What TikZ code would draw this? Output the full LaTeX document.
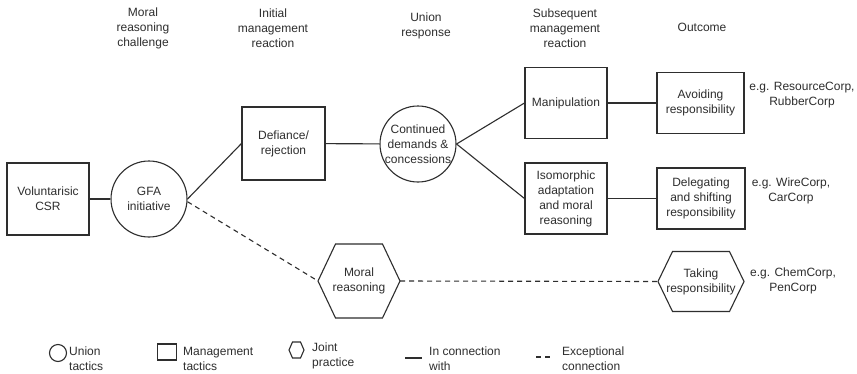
\documentclass[tikz,border=0pt]{standalone}
\usepackage{fontspec}
\setmainfont{Liberation Sans}
\definecolor{ink}{HTML}{2E2E2E}
\begin{document}
\begin{tikzpicture}[x=1pt,y=-1pt,
  every node/.style={font=\fontsize{12}{15}\selectfont, text=ink, align=center, inner sep=0pt},
  line/.style={draw=ink, line width=1.1pt},
  exc/.style={line, dash pattern=on 5pt off 4pt},
  mbox/.style={line, rectangle},
  ubox/.style={line, circle},
]
\useasboundingbox (0,0) rectangle (857,373);
\fill[white] (0,0) rectangle (857,373);

% column headers
\node (h1) at (143,28) {Moral\\reasoning\\challenge};
\node (h2) at (273,28.5) {Initial\\management\\reaction};
\node (h3) at (426,25.5) {Union\\response};
\node (h4) at (565,28) {Subsequent\\management\\reaction};
\node (h5) at (702,27) {Outcome};

% main nodes
\node[mbox, minimum width=82, minimum height=72] (vol) at (48,199) {Voluntarisic\\CSR};
\node[ubox, minimum size=76] (gfa) at (149,199) {};
\node (gfa-t) at (gfa) {GFA\\initiative};
\node[mbox, minimum width=83, minimum height=73] (def) at (283.5,143.5) {Defiance/\\rejection};
\node[ubox, minimum size=76] (con) at (418,144) {};
\node (con-t) at (con) {Continued\\demands \&\\concessions};
\node[mbox, minimum width=82, minimum height=71] (man) at (566,103) {Manipulation};
\node[mbox, minimum width=82, minimum height=71] (iso) at (566,198.5) {Isomorphic\\adaptation\\and moral\\reasoning};
\node[mbox, minimum width=87, minimum height=61] (avo) at (700.5,103) {Avoiding\\responsibility};
\node[mbox, minimum width=88, minimum height=61] (del) at (701,198.5) {Delegating\\and shifting\\responsibility};

% joint practice hexagons
\node (mor) at (359,281) {Moral\\reasoning};
\draw[line] ([shift={(-23.5,-37)}]mor.center) -- ([shift={(23.5,-37)}]mor.center)
  -- ([shift={(41,0)}]mor.center) coordinate (mor-e)
  -- ([shift={(23.5,37)}]mor.center) -- ([shift={(-23.5,37)}]mor.center)
  -- ([shift={(-41,0)}]mor.center) coordinate (mor-w) -- cycle;
\node (tak) at (701,281.5) {Taking\\responsibility};
\draw[line] ([shift={(-28.5,-30)}]tak.center) -- ([shift={(28.5,-30)}]tak.center)
  -- ([shift={(43,0)}]tak.center) coordinate (tak-e)
  -- ([shift={(28.5,30)}]tak.center) -- ([shift={(-28.5,30)}]tak.center)
  -- ([shift={(-43,0)}]tak.center) coordinate (tak-w) -- cycle;

% examples
\node (ex1) at (802,95.5) {e.g. ResourceCorp,\\RubberCorp};
\node (ex2) at (791,190.5) {e.g. WireCorp,\\CarCorp};
\node (ex3) at (793,280.5) {e.g. ChemCorp,\\PenCorp};

% connectors
\draw[line] (vol) -- (gfa);
\draw[line] (gfa.east) -- (def.west);
\draw[exc] (gfa.-4) -- (mor-w);
\draw[line] (def) -- (con);
\draw[line] (con.east) -- (man.west);
\draw[line] (con.east) -- (iso.west);
\draw[line] (man) -- (avo);
\draw[line] (iso) -- (del);
\draw[exc] (mor-e) -- (tak-w);

% legend
\node[ubox, minimum size=17] (lc) at (58,353) {};
\node[anchor=west, align=left] (lct) at (69,358.5) {Union\\tactics};
\node[mbox, minimum width=19, minimum height=16] (ls) at (167,352) {};
\node[anchor=west, align=left] (lst) at (183,358.5) {Management\\tactics};
\coordinate (lh) at (296.5,350);
\draw[line] ([shift={(-4,-8)}]lh) -- ([shift={(4,-8)}]lh) -- ([shift={(7.5,0)}]lh)
  -- ([shift={(4,8)}]lh) -- ([shift={(-4,8)}]lh) -- ([shift={(-7.5,0)}]lh) -- cycle;
\node[anchor=west, align=left] (lht) at (312,355.5) {Joint\\practice};
\coordinate (la1) at (405,358); \coordinate (la2) at (422,358);
\draw[line] (la1) -- (la2);
\node[anchor=west, align=left] (lat) at (429,358.5) {In connection\\with};
\coordinate (lb1) at (536,357); \coordinate (lb2) at (553,357);
\draw[exc] (lb1) -- (lb2);
\node[anchor=west, align=left] (lbt) at (562,358.5) {Exceptional\\connection};
\end{tikzpicture}
\end{document}
